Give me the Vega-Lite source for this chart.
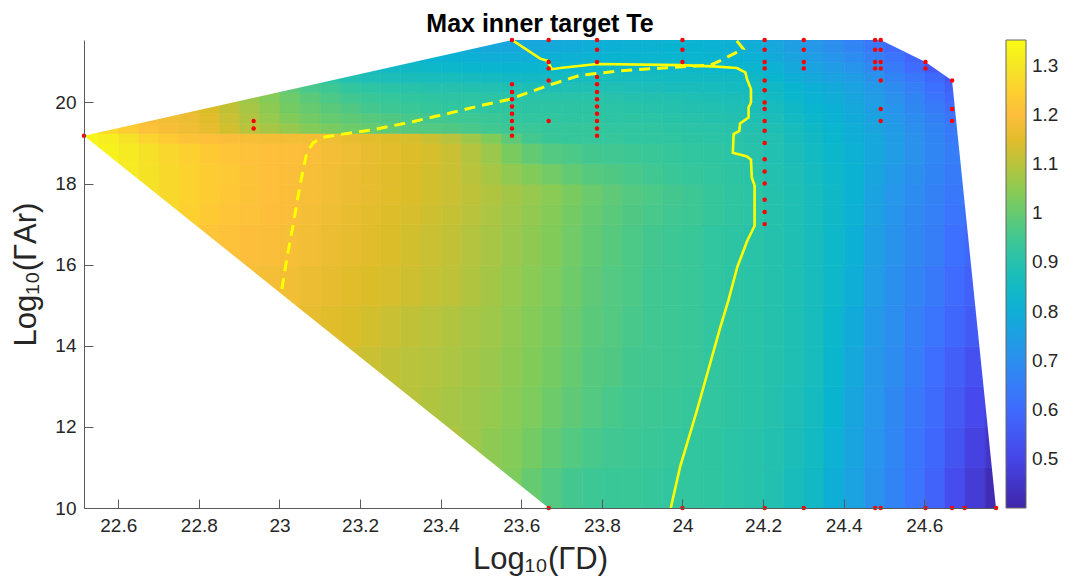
{
"$schema":"https://vega.github.io/schema/vega-lite/v6.json",
"width":912,"height":468,
"autosize":{"type":"none"},
"padding":{"left":84,"top":40,"right":71,"bottom":72},
"background":"white",
"title":{"text":"Max inner target Te","font":"Liberation Sans","fontSize":25,"fontWeight":"bold","color":"#000000","anchor":"middle","offset":1},
"datasets":{
"lo":[
{"x":23.525,"y":10.5,"v":1.04},{"x":23.575,"y":10.5,"v":1.03},{"x":23.625,"y":10.5,"v":1.0},{"x":23.675,"y":10.5,"v":0.975},{"x":23.725,"y":10.5,"v":0.955},{"x":23.775,"y":10.5,"v":0.945},{"x":23.825,"y":10.5,"v":0.94},{"x":23.875,"y":10.5,"v":0.94},{"x":23.925,"y":10.5,"v":0.935},{"x":23.975,"y":10.5,"v":0.93},{"x":24.025,"y":10.5,"v":0.93},{"x":24.075,"y":10.5,"v":0.925},{"x":24.125,"y":10.5,"v":0.915},{"x":24.175,"y":10.5,"v":0.905},{"x":24.225,"y":10.5,"v":0.895},{"x":24.275,"y":10.5,"v":0.87},{"x":24.325,"y":10.5,"v":0.85},{"x":24.375,"y":10.5,"v":0.8},{"x":24.425,"y":10.5,"v":0.76},{"x":24.475,"y":10.5,"v":0.71},{"x":24.525,"y":10.5,"v":0.67},{"x":24.575,"y":10.5,"v":0.625},{"x":24.625,"y":10.5,"v":0.58},{"x":24.675,"y":10.5,"v":0.52},{"x":24.725,"y":10.5,"v":0.47},{"x":24.775,"y":10.5,"v":0.42},
{"x":23.425,"y":11.5,"v":1.09},{"x":23.475,"y":11.5,"v":1.07},{"x":23.525,"y":11.5,"v":1.05},{"x":23.575,"y":11.5,"v":1.04},{"x":23.625,"y":11.5,"v":1.02},{"x":23.675,"y":11.5,"v":0.995},{"x":23.725,"y":11.5,"v":0.975},{"x":23.775,"y":11.5,"v":0.96},{"x":23.825,"y":11.5,"v":0.95},{"x":23.875,"y":11.5,"v":0.945},{"x":23.925,"y":11.5,"v":0.94},{"x":23.975,"y":11.5,"v":0.935},{"x":24.025,"y":11.5,"v":0.93},{"x":24.075,"y":11.5,"v":0.925},{"x":24.125,"y":11.5,"v":0.915},{"x":24.175,"y":11.5,"v":0.905},{"x":24.225,"y":11.5,"v":0.895},{"x":24.275,"y":11.5,"v":0.875},{"x":24.325,"y":11.5,"v":0.855},{"x":24.375,"y":11.5,"v":0.81},{"x":24.425,"y":11.5,"v":0.765},{"x":24.475,"y":11.5,"v":0.715},{"x":24.525,"y":11.5,"v":0.675},{"x":24.575,"y":11.5,"v":0.63},{"x":24.625,"y":11.5,"v":0.59},{"x":24.675,"y":11.5,"v":0.54},{"x":24.725,"y":11.5,"v":0.49},{"x":24.775,"y":11.5,"v":0.45},
{"x":23.275,"y":12.5,"v":1.11},{"x":23.325,"y":12.5,"v":1.1},{"x":23.375,"y":12.5,"v":1.09},{"x":23.425,"y":12.5,"v":1.08},{"x":23.475,"y":12.5,"v":1.07},{"x":23.525,"y":12.5,"v":1.06},{"x":23.575,"y":12.5,"v":1.045},{"x":23.625,"y":12.5,"v":1.03},{"x":23.675,"y":12.5,"v":1.01},{"x":23.725,"y":12.5,"v":0.99},{"x":23.775,"y":12.5,"v":0.975},{"x":23.825,"y":12.5,"v":0.96},{"x":23.875,"y":12.5,"v":0.95},{"x":23.925,"y":12.5,"v":0.945},{"x":23.975,"y":12.5,"v":0.94},{"x":24.025,"y":12.5,"v":0.935},{"x":24.075,"y":12.5,"v":0.93},{"x":24.125,"y":12.5,"v":0.92},{"x":24.175,"y":12.5,"v":0.91},{"x":24.225,"y":12.5,"v":0.9},{"x":24.275,"y":12.5,"v":0.88},{"x":24.325,"y":12.5,"v":0.86},{"x":24.375,"y":12.5,"v":0.82},{"x":24.425,"y":12.5,"v":0.77},{"x":24.475,"y":12.5,"v":0.72},{"x":24.525,"y":12.5,"v":0.68},{"x":24.575,"y":12.5,"v":0.64},{"x":24.625,"y":12.5,"v":0.6},{"x":24.675,"y":12.5,"v":0.555},{"x":24.725,"y":12.5,"v":0.51},{"x":24.775,"y":12.5,"v":0.47},
{"x":23.175,"y":13.5,"v":1.13},{"x":23.225,"y":13.5,"v":1.12},{"x":23.275,"y":13.5,"v":1.11},{"x":23.325,"y":13.5,"v":1.1},{"x":23.375,"y":13.5,"v":1.095},{"x":23.425,"y":13.5,"v":1.085},{"x":23.475,"y":13.5,"v":1.075},{"x":23.525,"y":13.5,"v":1.065},{"x":23.575,"y":13.5,"v":1.05},{"x":23.625,"y":13.5,"v":1.035},{"x":23.675,"y":13.5,"v":1.02},{"x":23.725,"y":13.5,"v":1.0},{"x":23.775,"y":13.5,"v":0.98},{"x":23.825,"y":13.5,"v":0.97},{"x":23.875,"y":13.5,"v":0.955},{"x":23.925,"y":13.5,"v":0.95},{"x":23.975,"y":13.5,"v":0.945},{"x":24.025,"y":13.5,"v":0.94},{"x":24.075,"y":13.5,"v":0.93},{"x":24.125,"y":13.5,"v":0.92},{"x":24.175,"y":13.5,"v":0.91},{"x":24.225,"y":13.5,"v":0.9},{"x":24.275,"y":13.5,"v":0.885},{"x":24.325,"y":13.5,"v":0.865},{"x":24.375,"y":13.5,"v":0.83},{"x":24.425,"y":13.5,"v":0.78},{"x":24.475,"y":13.5,"v":0.725},{"x":24.525,"y":13.5,"v":0.69},{"x":24.575,"y":13.5,"v":0.65},{"x":24.625,"y":13.5,"v":0.61},{"x":24.675,"y":13.5,"v":0.57},{"x":24.725,"y":13.5,"v":0.53},
{"x":23.025,"y":14.5,"v":1.17},{"x":23.075,"y":14.5,"v":1.16},{"x":23.125,"y":14.5,"v":1.15},{"x":23.175,"y":14.5,"v":1.14},{"x":23.225,"y":14.5,"v":1.13},{"x":23.275,"y":14.5,"v":1.12},{"x":23.325,"y":14.5,"v":1.11},{"x":23.375,"y":14.5,"v":1.1},{"x":23.425,"y":14.5,"v":1.09},{"x":23.475,"y":14.5,"v":1.08},{"x":23.525,"y":14.5,"v":1.07},{"x":23.575,"y":14.5,"v":1.055},{"x":23.625,"y":14.5,"v":1.04},{"x":23.675,"y":14.5,"v":1.025},{"x":23.725,"y":14.5,"v":1.005},{"x":23.775,"y":14.5,"v":0.985},{"x":23.825,"y":14.5,"v":0.975},{"x":23.875,"y":14.5,"v":0.96},{"x":23.925,"y":14.5,"v":0.95},{"x":23.975,"y":14.5,"v":0.945},{"x":24.025,"y":14.5,"v":0.94},{"x":24.075,"y":14.5,"v":0.93},{"x":24.125,"y":14.5,"v":0.92},{"x":24.175,"y":14.5,"v":0.91},{"x":24.225,"y":14.5,"v":0.9},{"x":24.275,"y":14.5,"v":0.885},{"x":24.325,"y":14.5,"v":0.865},{"x":24.375,"y":14.5,"v":0.835},{"x":24.425,"y":14.5,"v":0.79},{"x":24.475,"y":14.5,"v":0.73},{"x":24.525,"y":14.5,"v":0.695},{"x":24.575,"y":14.5,"v":0.66},{"x":24.625,"y":14.5,"v":0.625},{"x":24.675,"y":14.5,"v":0.59},{"x":24.725,"y":14.5,"v":0.56},
{"x":22.925,"y":15.5,"v":1.19},{"x":22.975,"y":15.5,"v":1.185},{"x":23.025,"y":15.5,"v":1.18},{"x":23.075,"y":15.5,"v":1.17},{"x":23.125,"y":15.5,"v":1.16},{"x":23.175,"y":15.5,"v":1.15},{"x":23.225,"y":15.5,"v":1.14},{"x":23.275,"y":15.5,"v":1.135},{"x":23.325,"y":15.5,"v":1.125},{"x":23.375,"y":15.5,"v":1.115},{"x":23.425,"y":15.5,"v":1.105},{"x":23.475,"y":15.5,"v":1.09},{"x":23.525,"y":15.5,"v":1.075},{"x":23.575,"y":15.5,"v":1.06},{"x":23.625,"y":15.5,"v":1.045},{"x":23.675,"y":15.5,"v":1.03},{"x":23.725,"y":15.5,"v":1.01},{"x":23.775,"y":15.5,"v":0.99},{"x":23.825,"y":15.5,"v":0.975},{"x":23.875,"y":15.5,"v":0.965},{"x":23.925,"y":15.5,"v":0.95},{"x":23.975,"y":15.5,"v":0.945},{"x":24.025,"y":15.5,"v":0.94},{"x":24.075,"y":15.5,"v":0.93},{"x":24.125,"y":15.5,"v":0.92},{"x":24.175,"y":15.5,"v":0.91},{"x":24.225,"y":15.5,"v":0.9},{"x":24.275,"y":15.5,"v":0.885},{"x":24.325,"y":15.5,"v":0.865},{"x":24.375,"y":15.5,"v":0.84},{"x":24.425,"y":15.5,"v":0.8},{"x":24.475,"y":15.5,"v":0.74},{"x":24.525,"y":15.5,"v":0.7},{"x":24.575,"y":15.5,"v":0.67},{"x":24.625,"y":15.5,"v":0.64},{"x":24.675,"y":15.5,"v":0.605},{"x":24.725,"y":15.5,"v":0.575},
{"x":22.775,"y":16.5,"v":1.24},{"x":22.825,"y":16.5,"v":1.22},{"x":22.875,"y":16.5,"v":1.21},{"x":22.925,"y":16.5,"v":1.2},{"x":22.975,"y":16.5,"v":1.195},{"x":23.025,"y":16.5,"v":1.19},{"x":23.075,"y":16.5,"v":1.18},{"x":23.125,"y":16.5,"v":1.17},{"x":23.175,"y":16.5,"v":1.16},{"x":23.225,"y":16.5,"v":1.15},{"x":23.275,"y":16.5,"v":1.14},{"x":23.325,"y":16.5,"v":1.13},{"x":23.375,"y":16.5,"v":1.12},{"x":23.425,"y":16.5,"v":1.11},{"x":23.475,"y":16.5,"v":1.095},{"x":23.525,"y":16.5,"v":1.08},{"x":23.575,"y":16.5,"v":1.065},{"x":23.625,"y":16.5,"v":1.05},{"x":23.675,"y":16.5,"v":1.035},{"x":23.725,"y":16.5,"v":1.015},{"x":23.775,"y":16.5,"v":0.995},{"x":23.825,"y":16.5,"v":0.98},{"x":23.875,"y":16.5,"v":0.965},{"x":23.925,"y":16.5,"v":0.955},{"x":23.975,"y":16.5,"v":0.945},{"x":24.025,"y":16.5,"v":0.94},{"x":24.075,"y":16.5,"v":0.93},{"x":24.125,"y":16.5,"v":0.92},{"x":24.175,"y":16.5,"v":0.91},{"x":24.225,"y":16.5,"v":0.9},{"x":24.275,"y":16.5,"v":0.885},{"x":24.325,"y":16.5,"v":0.865},{"x":24.375,"y":16.5,"v":0.84},{"x":24.425,"y":16.5,"v":0.805},{"x":24.475,"y":16.5,"v":0.75},{"x":24.525,"y":16.5,"v":0.71},{"x":24.575,"y":16.5,"v":0.68},{"x":24.625,"y":16.5,"v":0.65},{"x":24.675,"y":16.5,"v":0.615},{"x":24.725,"y":16.5,"v":0.59}
],
"mid":[
{"x":22.725,"y":17.25,"v":1.27},{"x":22.775,"y":17.25,"v":1.25},{"x":22.825,"y":17.25,"v":1.235},{"x":22.875,"y":17.25,"v":1.22},{"x":22.925,"y":17.25,"v":1.21},{"x":22.975,"y":17.25,"v":1.2},{"x":23.025,"y":17.25,"v":1.195},{"x":23.075,"y":17.25,"v":1.185},{"x":23.125,"y":17.25,"v":1.175},{"x":23.175,"y":17.25,"v":1.165},{"x":23.225,"y":17.25,"v":1.155},{"x":23.275,"y":17.25,"v":1.145},{"x":23.325,"y":17.25,"v":1.135},{"x":23.375,"y":17.25,"v":1.125},{"x":23.425,"y":17.25,"v":1.115},{"x":23.475,"y":17.25,"v":1.1},{"x":23.525,"y":17.25,"v":1.085},{"x":23.575,"y":17.25,"v":1.07},{"x":23.625,"y":17.25,"v":1.055},{"x":23.675,"y":17.25,"v":1.04},{"x":23.725,"y":17.25,"v":1.02},{"x":23.775,"y":17.25,"v":1.0},{"x":23.825,"y":17.25,"v":0.985},{"x":23.875,"y":17.25,"v":0.97},{"x":23.925,"y":17.25,"v":0.96},{"x":23.975,"y":17.25,"v":0.95},{"x":24.025,"y":17.25,"v":0.945},{"x":24.075,"y":17.25,"v":0.935},{"x":24.125,"y":17.25,"v":0.925},{"x":24.175,"y":17.25,"v":0.915},{"x":24.225,"y":17.25,"v":0.9},{"x":24.275,"y":17.25,"v":0.885},{"x":24.325,"y":17.25,"v":0.865},{"x":24.375,"y":17.25,"v":0.845},{"x":24.425,"y":17.25,"v":0.81},{"x":24.475,"y":17.25,"v":0.755},{"x":24.525,"y":17.25,"v":0.715},{"x":24.575,"y":17.25,"v":0.685},{"x":24.625,"y":17.25,"v":0.655},{"x":24.675,"y":17.25,"v":0.625},{"x":24.725,"y":17.25,"v":0.6},
{"x":22.675,"y":17.75,"v":1.29},{"x":22.725,"y":17.75,"v":1.27},{"x":22.775,"y":17.75,"v":1.255},{"x":22.825,"y":17.75,"v":1.24},{"x":22.875,"y":17.75,"v":1.225},{"x":22.925,"y":17.75,"v":1.215},{"x":22.975,"y":17.75,"v":1.205},{"x":23.025,"y":17.75,"v":1.195},{"x":23.075,"y":17.75,"v":1.19},{"x":23.125,"y":17.75,"v":1.18},{"x":23.175,"y":17.75,"v":1.17},{"x":23.225,"y":17.75,"v":1.16},{"x":23.275,"y":17.75,"v":1.15},{"x":23.325,"y":17.75,"v":1.14},{"x":23.375,"y":17.75,"v":1.13},{"x":23.425,"y":17.75,"v":1.12},{"x":23.475,"y":17.75,"v":1.105},{"x":23.525,"y":17.75,"v":1.09},{"x":23.575,"y":17.75,"v":1.075},{"x":23.625,"y":17.75,"v":1.06},{"x":23.675,"y":17.75,"v":1.045},{"x":23.725,"y":17.75,"v":1.025},{"x":23.775,"y":17.75,"v":1.005},{"x":23.825,"y":17.75,"v":0.99},{"x":23.875,"y":17.75,"v":0.975},{"x":23.925,"y":17.75,"v":0.965},{"x":23.975,"y":17.75,"v":0.955},{"x":24.025,"y":17.75,"v":0.945},{"x":24.075,"y":17.75,"v":0.935},{"x":24.125,"y":17.75,"v":0.925},{"x":24.175,"y":17.75,"v":0.915},{"x":24.225,"y":17.75,"v":0.9},{"x":24.275,"y":17.75,"v":0.885},{"x":24.325,"y":17.75,"v":0.865},{"x":24.375,"y":17.75,"v":0.845},{"x":24.425,"y":17.75,"v":0.815},{"x":24.475,"y":17.75,"v":0.76},{"x":24.525,"y":17.75,"v":0.72},{"x":24.575,"y":17.75,"v":0.69},{"x":24.625,"y":17.75,"v":0.66},{"x":24.675,"y":17.75,"v":0.635},{"x":24.725,"y":17.75,"v":0.61},
{"x":22.625,"y":18.25,"v":1.31},{"x":22.675,"y":18.25,"v":1.29},{"x":22.725,"y":18.25,"v":1.27},{"x":22.775,"y":18.25,"v":1.255},{"x":22.825,"y":18.25,"v":1.24},{"x":22.875,"y":18.25,"v":1.23},{"x":22.925,"y":18.25,"v":1.215},{"x":22.975,"y":18.25,"v":1.205},{"x":23.025,"y":18.25,"v":1.195},{"x":23.075,"y":18.25,"v":1.19},{"x":23.125,"y":18.25,"v":1.18},{"x":23.175,"y":18.25,"v":1.17},{"x":23.225,"y":18.25,"v":1.16},{"x":23.275,"y":18.25,"v":1.15},{"x":23.325,"y":18.25,"v":1.14},{"x":23.375,"y":18.25,"v":1.13},{"x":23.425,"y":18.25,"v":1.12},{"x":23.475,"y":18.25,"v":1.1},{"x":23.525,"y":18.25,"v":1.08},{"x":23.575,"y":18.25,"v":1.055},{"x":23.625,"y":18.25,"v":1.035},{"x":23.675,"y":18.25,"v":1.015},{"x":23.725,"y":18.25,"v":0.995},{"x":23.775,"y":18.25,"v":0.98},{"x":23.825,"y":18.25,"v":0.97},{"x":23.875,"y":18.25,"v":0.96},{"x":23.925,"y":18.25,"v":0.95},{"x":23.975,"y":18.25,"v":0.94},{"x":24.025,"y":18.25,"v":0.935},{"x":24.075,"y":18.25,"v":0.93},{"x":24.125,"y":18.25,"v":0.92},{"x":24.175,"y":18.25,"v":0.91},{"x":24.225,"y":18.25,"v":0.895},{"x":24.275,"y":18.25,"v":0.88},{"x":24.325,"y":18.25,"v":0.86},{"x":24.375,"y":18.25,"v":0.84},{"x":24.425,"y":18.25,"v":0.815},{"x":24.475,"y":18.25,"v":0.77},{"x":24.525,"y":18.25,"v":0.73},{"x":24.575,"y":18.25,"v":0.7},{"x":24.625,"y":18.25,"v":0.67},{"x":24.675,"y":18.25,"v":0.645},
{"x":22.525,"y":18.75,"v":1.34},{"x":22.575,"y":18.75,"v":1.33},{"x":22.625,"y":18.75,"v":1.31},{"x":22.675,"y":18.75,"v":1.285},{"x":22.725,"y":18.75,"v":1.265},{"x":22.775,"y":18.75,"v":1.25},{"x":22.825,"y":18.75,"v":1.235},{"x":22.875,"y":18.75,"v":1.22},{"x":22.925,"y":18.75,"v":1.21},{"x":22.975,"y":18.75,"v":1.205},{"x":23.025,"y":18.75,"v":1.2},{"x":23.075,"y":18.75,"v":1.195},{"x":23.125,"y":18.75,"v":1.185},{"x":23.175,"y":18.75,"v":1.175},{"x":23.225,"y":18.75,"v":1.165},{"x":23.275,"y":18.75,"v":1.155},{"x":23.325,"y":18.75,"v":1.145},{"x":23.375,"y":18.75,"v":1.135},{"x":23.425,"y":18.75,"v":1.12},{"x":23.475,"y":18.75,"v":1.095},{"x":23.525,"y":18.75,"v":1.065},{"x":23.575,"y":18.75,"v":1.025},{"x":23.625,"y":18.75,"v":0.995},{"x":23.675,"y":18.75,"v":0.975},{"x":23.725,"y":18.75,"v":0.965},{"x":23.775,"y":18.75,"v":0.955},{"x":23.825,"y":18.75,"v":0.95},{"x":23.875,"y":18.75,"v":0.945},{"x":23.925,"y":18.75,"v":0.94},{"x":23.975,"y":18.75,"v":0.935},{"x":24.025,"y":18.75,"v":0.93},{"x":24.075,"y":18.75,"v":0.925},{"x":24.125,"y":18.75,"v":0.915},{"x":24.175,"y":18.75,"v":0.905},{"x":24.225,"y":18.75,"v":0.89},{"x":24.275,"y":18.75,"v":0.875},{"x":24.325,"y":18.75,"v":0.855},{"x":24.375,"y":18.75,"v":0.835},{"x":24.425,"y":18.75,"v":0.81},{"x":24.475,"y":18.75,"v":0.775},{"x":24.525,"y":18.75,"v":0.74},{"x":24.575,"y":18.75,"v":0.705},{"x":24.625,"y":18.75,"v":0.675},{"x":24.675,"y":18.75,"v":0.65}
],
"up":[
{"x":22.525,"y":19.125,"v":1.34},{"x":22.575,"y":19.125,"v":1.32},{"x":22.625,"y":19.125,"v":1.29},{"x":22.675,"y":19.125,"v":1.26},{"x":22.725,"y":19.125,"v":1.235},{"x":22.775,"y":19.125,"v":1.215},{"x":22.825,"y":19.125,"v":1.205},{"x":22.875,"y":19.125,"v":1.195},{"x":22.925,"y":19.125,"v":1.19},{"x":22.975,"y":19.125,"v":1.185},{"x":23.025,"y":19.125,"v":1.18},{"x":23.075,"y":19.125,"v":1.18},{"x":23.125,"y":19.125,"v":1.175},{"x":23.175,"y":19.125,"v":1.165},{"x":23.225,"y":19.125,"v":1.155},{"x":23.275,"y":19.125,"v":1.145},{"x":23.325,"y":19.125,"v":1.135},{"x":23.375,"y":19.125,"v":1.12},{"x":23.425,"y":19.125,"v":1.1},{"x":23.475,"y":19.125,"v":1.07},{"x":23.525,"y":19.125,"v":1.035},{"x":23.575,"y":19.125,"v":0.99},{"x":23.625,"y":19.125,"v":0.955},{"x":23.675,"y":19.125,"v":0.94},{"x":23.725,"y":19.125,"v":0.935},{"x":23.775,"y":19.125,"v":0.935},{"x":23.825,"y":19.125,"v":0.935},{"x":23.875,"y":19.125,"v":0.93},{"x":23.925,"y":19.125,"v":0.93},{"x":23.975,"y":19.125,"v":0.925},{"x":24.025,"y":19.125,"v":0.92},{"x":24.075,"y":19.125,"v":0.915},{"x":24.125,"y":19.125,"v":0.91},{"x":24.175,"y":19.125,"v":0.9},{"x":24.225,"y":19.125,"v":0.89},{"x":24.275,"y":19.125,"v":0.87},{"x":24.325,"y":19.125,"v":0.85},{"x":24.375,"y":19.125,"v":0.83},{"x":24.425,"y":19.125,"v":0.8},{"x":24.475,"y":19.125,"v":0.775},{"x":24.525,"y":19.125,"v":0.74},{"x":24.575,"y":19.125,"v":0.705},{"x":24.625,"y":19.125,"v":0.675},{"x":24.675,"y":19.125,"v":0.645},
{"x":22.525,"y":19.375,"v":1.3},{"x":22.575,"y":19.375,"v":1.27},{"x":22.625,"y":19.375,"v":1.24},{"x":22.675,"y":19.375,"v":1.21},{"x":22.725,"y":19.375,"v":1.19},{"x":22.775,"y":19.375,"v":1.175},{"x":22.825,"y":19.375,"v":1.16},{"x":22.875,"y":19.375,"v":1.13},{"x":22.925,"y":19.375,"v":1.1},{"x":22.975,"y":19.375,"v":1.08},{"x":23.025,"y":19.375,"v":1.06},{"x":23.075,"y":19.375,"v":1.04},{"x":23.125,"y":19.375,"v":1.025},{"x":23.175,"y":19.375,"v":1.01},{"x":23.225,"y":19.375,"v":1.0},{"x":23.275,"y":19.375,"v":0.99},{"x":23.325,"y":19.375,"v":0.98},{"x":23.375,"y":19.375,"v":0.975},{"x":23.425,"y":19.375,"v":0.97},{"x":23.475,"y":19.375,"v":0.96},{"x":23.525,"y":19.375,"v":0.95},{"x":23.575,"y":19.375,"v":0.945},{"x":23.625,"y":19.375,"v":0.94},{"x":23.675,"y":19.375,"v":0.935},{"x":23.725,"y":19.375,"v":0.935},{"x":23.775,"y":19.375,"v":0.935},{"x":23.825,"y":19.375,"v":0.93},{"x":23.875,"y":19.375,"v":0.93},{"x":23.925,"y":19.375,"v":0.925},{"x":23.975,"y":19.375,"v":0.92},{"x":24.025,"y":19.375,"v":0.915},{"x":24.075,"y":19.375,"v":0.91},{"x":24.125,"y":19.375,"v":0.905},{"x":24.175,"y":19.375,"v":0.895},{"x":24.225,"y":19.375,"v":0.885},{"x":24.275,"y":19.375,"v":0.865},{"x":24.325,"y":19.375,"v":0.845},{"x":24.375,"y":19.375,"v":0.825},{"x":24.425,"y":19.375,"v":0.8},{"x":24.475,"y":19.375,"v":0.77},{"x":24.525,"y":19.375,"v":0.735},{"x":24.575,"y":19.375,"v":0.7},{"x":24.625,"y":19.375,"v":0.67},{"x":24.675,"y":19.375,"v":0.64},
{"x":22.675,"y":19.625,"v":1.19},{"x":22.725,"y":19.625,"v":1.18},{"x":22.775,"y":19.625,"v":1.17},{"x":22.825,"y":19.625,"v":1.15},{"x":22.875,"y":19.625,"v":1.12},{"x":22.925,"y":19.625,"v":1.09},{"x":22.975,"y":19.625,"v":1.06},{"x":23.025,"y":19.625,"v":1.035},{"x":23.075,"y":19.625,"v":1.015},{"x":23.125,"y":19.625,"v":1.0},{"x":23.175,"y":19.625,"v":0.99},{"x":23.225,"y":19.625,"v":0.98},{"x":23.275,"y":19.625,"v":0.97},{"x":23.325,"y":19.625,"v":0.96},{"x":23.375,"y":19.625,"v":0.955},{"x":23.425,"y":19.625,"v":0.95},{"x":23.475,"y":19.625,"v":0.945},{"x":23.525,"y":19.625,"v":0.94},{"x":23.575,"y":19.625,"v":0.935},{"x":23.625,"y":19.625,"v":0.93},{"x":23.675,"y":19.625,"v":0.93},{"x":23.725,"y":19.625,"v":0.925},{"x":23.775,"y":19.625,"v":0.925},{"x":23.825,"y":19.625,"v":0.92},{"x":23.875,"y":19.625,"v":0.92},{"x":23.925,"y":19.625,"v":0.915},{"x":23.975,"y":19.625,"v":0.91},{"x":24.025,"y":19.625,"v":0.905},{"x":24.075,"y":19.625,"v":0.9},{"x":24.125,"y":19.625,"v":0.895},{"x":24.175,"y":19.625,"v":0.885},{"x":24.225,"y":19.625,"v":0.875},{"x":24.275,"y":19.625,"v":0.855},{"x":24.325,"y":19.625,"v":0.835},{"x":24.375,"y":19.625,"v":0.815},{"x":24.425,"y":19.625,"v":0.79},{"x":24.475,"y":19.625,"v":0.76},{"x":24.525,"y":19.625,"v":0.725},{"x":24.575,"y":19.625,"v":0.69},{"x":24.625,"y":19.625,"v":0.66},{"x":24.675,"y":19.625,"v":0.625},
{"x":22.775,"y":19.875,"v":1.16},{"x":22.825,"y":19.875,"v":1.14},{"x":22.875,"y":19.875,"v":1.11},{"x":22.925,"y":19.875,"v":1.08},{"x":22.975,"y":19.875,"v":1.05},{"x":23.025,"y":19.875,"v":1.02},{"x":23.075,"y":19.875,"v":1.0},{"x":23.125,"y":19.875,"v":0.985},{"x":23.175,"y":19.875,"v":0.97},{"x":23.225,"y":19.875,"v":0.955},{"x":23.275,"y":19.875,"v":0.945},{"x":23.325,"y":19.875,"v":0.94},{"x":23.375,"y":19.875,"v":0.935},{"x":23.425,"y":19.875,"v":0.93},{"x":23.475,"y":19.875,"v":0.93},{"x":23.525,"y":19.875,"v":0.925},{"x":23.575,"y":19.875,"v":0.925},{"x":23.625,"y":19.875,"v":0.92},{"x":23.675,"y":19.875,"v":0.92},{"x":23.725,"y":19.875,"v":0.92},{"x":23.775,"y":19.875,"v":0.92},{"x":23.825,"y":19.875,"v":0.915},{"x":23.875,"y":19.875,"v":0.91},{"x":23.925,"y":19.875,"v":0.905},{"x":23.975,"y":19.875,"v":0.9},{"x":24.025,"y":19.875,"v":0.895},{"x":24.075,"y":19.875,"v":0.89},{"x":24.125,"y":19.875,"v":0.885},{"x":24.175,"y":19.875,"v":0.875},{"x":24.225,"y":19.875,"v":0.865},{"x":24.275,"y":19.875,"v":0.845},{"x":24.325,"y":19.875,"v":0.825},{"x":24.375,"y":19.875,"v":0.805},{"x":24.425,"y":19.875,"v":0.78},{"x":24.475,"y":19.875,"v":0.75},{"x":24.525,"y":19.875,"v":0.715},{"x":24.575,"y":19.875,"v":0.68},{"x":24.625,"y":19.875,"v":0.645},{"x":24.675,"y":19.875,"v":0.61},
{"x":22.875,"y":20.125,"v":1.1},{"x":22.925,"y":20.125,"v":1.07},{"x":22.975,"y":20.125,"v":1.04},{"x":23.025,"y":20.125,"v":1.01},{"x":23.075,"y":20.125,"v":0.985},{"x":23.125,"y":20.125,"v":0.965},{"x":23.175,"y":20.125,"v":0.95},{"x":23.225,"y":20.125,"v":0.94},{"x":23.275,"y":20.125,"v":0.935},{"x":23.325,"y":20.125,"v":0.93},{"x":23.375,"y":20.125,"v":0.925},{"x":23.425,"y":20.125,"v":0.92},{"x":23.475,"y":20.125,"v":0.92},{"x":23.525,"y":20.125,"v":0.915},{"x":23.575,"y":20.125,"v":0.91},{"x":23.625,"y":20.125,"v":0.91},{"x":23.675,"y":20.125,"v":0.91},{"x":23.725,"y":20.125,"v":0.91},{"x":23.775,"y":20.125,"v":0.91},{"x":23.825,"y":20.125,"v":0.905},{"x":23.875,"y":20.125,"v":0.9},{"x":23.925,"y":20.125,"v":0.895},{"x":23.975,"y":20.125,"v":0.89},{"x":24.025,"y":20.125,"v":0.885},{"x":24.075,"y":20.125,"v":0.88},{"x":24.125,"y":20.125,"v":0.875},{"x":24.175,"y":20.125,"v":0.865},{"x":24.225,"y":20.125,"v":0.855},{"x":24.275,"y":20.125,"v":0.835},{"x":24.325,"y":20.125,"v":0.815},{"x":24.375,"y":20.125,"v":0.795},{"x":24.425,"y":20.125,"v":0.77},{"x":24.475,"y":20.125,"v":0.74},{"x":24.525,"y":20.125,"v":0.705},{"x":24.575,"y":20.125,"v":0.67},{"x":24.625,"y":20.125,"v":0.63},{"x":24.675,"y":20.125,"v":0.595},
{"x":22.975,"y":20.375,"v":1.02},{"x":23.025,"y":20.375,"v":0.99},{"x":23.075,"y":20.375,"v":0.96},{"x":23.125,"y":20.375,"v":0.945},{"x":23.175,"y":20.375,"v":0.93},{"x":23.225,"y":20.375,"v":0.92},{"x":23.275,"y":20.375,"v":0.91},{"x":23.325,"y":20.375,"v":0.905},{"x":23.375,"y":20.375,"v":0.9},{"x":23.425,"y":20.375,"v":0.9},{"x":23.475,"y":20.375,"v":0.895},{"x":23.525,"y":20.375,"v":0.89},{"x":23.575,"y":20.375,"v":0.885},{"x":23.625,"y":20.375,"v":0.88},{"x":23.675,"y":20.375,"v":0.88},{"x":23.725,"y":20.375,"v":0.885},{"x":23.775,"y":20.375,"v":0.885},{"x":23.825,"y":20.375,"v":0.885},{"x":23.875,"y":20.375,"v":0.88},{"x":23.925,"y":20.375,"v":0.875},{"x":23.975,"y":20.375,"v":0.87},{"x":24.025,"y":20.375,"v":0.87},{"x":24.075,"y":20.375,"v":0.865},{"x":24.125,"y":20.375,"v":0.86},{"x":24.175,"y":20.375,"v":0.855},{"x":24.225,"y":20.375,"v":0.845},{"x":24.275,"y":20.375,"v":0.825},{"x":24.325,"y":20.375,"v":0.805},{"x":24.375,"y":20.375,"v":0.785},{"x":24.425,"y":20.375,"v":0.76},{"x":24.475,"y":20.375,"v":0.73},{"x":24.525,"y":20.375,"v":0.69},{"x":24.575,"y":20.375,"v":0.655},{"x":24.625,"y":20.375,"v":0.615},{"x":24.675,"y":20.375,"v":0.575},
{"x":23.075,"y":20.625,"v":0.93},{"x":23.125,"y":20.625,"v":0.91},{"x":23.175,"y":20.625,"v":0.89},{"x":23.225,"y":20.625,"v":0.88},{"x":23.275,"y":20.625,"v":0.875},{"x":23.325,"y":20.625,"v":0.87},{"x":23.375,"y":20.625,"v":0.865},{"x":23.425,"y":20.625,"v":0.865},{"x":23.475,"y":20.625,"v":0.86},{"x":23.525,"y":20.625,"v":0.855},{"x":23.575,"y":20.625,"v":0.85},{"x":23.625,"y":20.625,"v":0.85},{"x":23.675,"y":20.625,"v":0.855},{"x":23.725,"y":20.625,"v":0.86},{"x":23.775,"y":20.625,"v":0.865},{"x":23.825,"y":20.625,"v":0.865},{"x":23.875,"y":20.625,"v":0.86},{"x":23.925,"y":20.625,"v":0.86},{"x":23.975,"y":20.625,"v":0.855},{"x":24.025,"y":20.625,"v":0.855},{"x":24.075,"y":20.625,"v":0.85},{"x":24.125,"y":20.625,"v":0.85},{"x":24.175,"y":20.625,"v":0.845},{"x":24.225,"y":20.625,"v":0.83},{"x":24.275,"y":20.625,"v":0.8},{"x":24.325,"y":20.625,"v":0.78},{"x":24.375,"y":20.625,"v":0.76},{"x":24.425,"y":20.625,"v":0.74},{"x":24.475,"y":20.625,"v":0.71},{"x":24.525,"y":20.625,"v":0.67},{"x":24.575,"y":20.625,"v":0.635},{"x":24.625,"y":20.625,"v":0.595},{"x":24.675,"y":20.625,"v":0.55},
{"x":23.225,"y":20.875,"v":0.86},{"x":23.275,"y":20.875,"v":0.85},{"x":23.325,"y":20.875,"v":0.845},{"x":23.375,"y":20.875,"v":0.84},{"x":23.425,"y":20.875,"v":0.835},{"x":23.475,"y":20.875,"v":0.83},{"x":23.525,"y":20.875,"v":0.825},{"x":23.575,"y":20.875,"v":0.82},{"x":23.625,"y":20.875,"v":0.825},{"x":23.675,"y":20.875,"v":0.83},{"x":23.725,"y":20.875,"v":0.835},{"x":23.775,"y":20.875,"v":0.84},{"x":23.825,"y":20.875,"v":0.84},{"x":23.875,"y":20.875,"v":0.84},{"x":23.925,"y":20.875,"v":0.84},{"x":23.975,"y":20.875,"v":0.84},{"x":24.025,"y":20.875,"v":0.84},{"x":24.075,"y":20.875,"v":0.835},{"x":24.125,"y":20.875,"v":0.83},{"x":24.175,"y":20.875,"v":0.825},{"x":24.225,"y":20.875,"v":0.81},{"x":24.275,"y":20.875,"v":0.78},{"x":24.325,"y":20.875,"v":0.76},{"x":24.375,"y":20.875,"v":0.735},{"x":24.425,"y":20.875,"v":0.715},{"x":24.475,"y":20.875,"v":0.685},{"x":24.525,"y":20.875,"v":0.645},{"x":24.575,"y":20.875,"v":0.605},{"x":24.625,"y":20.875,"v":0.56},
{"x":23.325,"y":21.125,"v":0.83},{"x":23.375,"y":21.125,"v":0.82},{"x":23.425,"y":21.125,"v":0.815},{"x":23.475,"y":21.125,"v":0.805},{"x":23.525,"y":21.125,"v":0.8},{"x":23.575,"y":21.125,"v":0.795},{"x":23.625,"y":21.125,"v":0.8},{"x":23.675,"y":21.125,"v":0.805},{"x":23.725,"y":21.125,"v":0.81},{"x":23.775,"y":21.125,"v":0.815},{"x":23.825,"y":21.125,"v":0.82},{"x":23.875,"y":21.125,"v":0.82},{"x":23.925,"y":21.125,"v":0.825},{"x":23.975,"y":21.125,"v":0.825},{"x":24.025,"y":21.125,"v":0.825},{"x":24.075,"y":21.125,"v":0.82},{"x":24.125,"y":21.125,"v":0.815},{"x":24.175,"y":21.125,"v":0.805},{"x":24.225,"y":21.125,"v":0.79},{"x":24.275,"y":21.125,"v":0.765},{"x":24.325,"y":21.125,"v":0.74},{"x":24.375,"y":21.125,"v":0.715},{"x":24.425,"y":21.125,"v":0.69},{"x":24.475,"y":21.125,"v":0.66},{"x":24.525,"y":21.125,"v":0.625},{"x":24.575,"y":21.125,"v":0.585},{"x":24.625,"y":21.125,"v":0.55},
{"x":23.425,"y":21.375,"v":0.8},{"x":23.475,"y":21.375,"v":0.79},{"x":23.525,"y":21.375,"v":0.78},{"x":23.575,"y":21.375,"v":0.775},{"x":23.625,"y":21.375,"v":0.775},{"x":23.675,"y":21.375,"v":0.785},{"x":23.725,"y":21.375,"v":0.79},{"x":23.775,"y":21.375,"v":0.8},{"x":23.825,"y":21.375,"v":0.805},{"x":23.875,"y":21.375,"v":0.81},{"x":23.925,"y":21.375,"v":0.815},{"x":23.975,"y":21.375,"v":0.82},{"x":24.025,"y":21.375,"v":0.82},{"x":24.075,"y":21.375,"v":0.815},{"x":24.125,"y":21.375,"v":0.805},{"x":24.175,"y":21.375,"v":0.795},{"x":24.225,"y":21.375,"v":0.775},{"x":24.275,"y":21.375,"v":0.75},{"x":24.325,"y":21.375,"v":0.725},{"x":24.375,"y":21.375,"v":0.7},{"x":24.425,"y":21.375,"v":0.67},{"x":24.475,"y":21.375,"v":0.64},{"x":24.525,"y":21.375,"v":0.6},{"x":24.575,"y":21.375,"v":0.56},
{"x":23.525,"y":21.625,"v":0.77},{"x":23.575,"y":21.625,"v":0.765},{"x":23.625,"y":21.625,"v":0.77},{"x":23.675,"y":21.625,"v":0.78},{"x":23.725,"y":21.625,"v":0.785},{"x":23.775,"y":21.625,"v":0.795},{"x":23.825,"y":21.625,"v":0.8},{"x":23.875,"y":21.625,"v":0.805},{"x":23.925,"y":21.625,"v":0.81},{"x":23.975,"y":21.625,"v":0.815},{"x":24.025,"y":21.625,"v":0.815},{"x":24.075,"y":21.625,"v":0.81},{"x":24.125,"y":21.625,"v":0.8},{"x":24.175,"y":21.625,"v":0.79},{"x":24.225,"y":21.625,"v":0.77},{"x":24.275,"y":21.625,"v":0.745},{"x":24.325,"y":21.625,"v":0.72},{"x":24.375,"y":21.625,"v":0.69},{"x":24.425,"y":21.625,"v":0.66},{"x":24.475,"y":21.625,"v":0.63},{"x":24.525,"y":21.625,"v":0.59}
],
"maskA":[{"x":22.515,"y":19.18},{"x":23.668,"y":10}],
"maskB":[{"x":22.515,"y":19.18},{"x":23.577,"y":21.54}],
"maskC":[{"x":24.778,"y":10},{"x":24.669,"y":20.54},{"x":24.603,"y":21.0},{"x":24.492,"y":21.54}],
"solid":[
{"o":1,"x":23.577,"y":21.54},{"o":2,"x":23.647,"y":21.08},{"o":3,"x":23.664,"y":21.03},{"o":4,"x":23.676,"y":20.82},{"o":5,"x":23.697,"y":20.85},{"o":6,"x":23.788,"y":20.95},{"o":7,"x":23.994,"y":20.92},{"o":8,"x":24.076,"y":20.89},{"o":9,"x":24.135,"y":20.85},{"o":10,"x":24.156,"y":20.74},{"o":11,"x":24.16,"y":20.58},{"o":12,"x":24.17,"y":20.33},{"o":13,"x":24.17,"y":20.0},{"o":14,"x":24.164,"y":19.88},{"o":15,"x":24.164,"y":19.63},{"o":16,"x":24.143,"y":19.48},{"o":17,"x":24.141,"y":19.3},{"o":18,"x":24.127,"y":19.22},{"o":19,"x":24.125,"y":18.76},{"o":20,"x":24.16,"y":18.67},{"o":21,"x":24.17,"y":18.59},{"o":22,"x":24.172,"y":18.15},{"o":23,"x":24.179,"y":17.95},{"o":24,"x":24.179,"y":16.96},{"o":25,"x":24.16,"y":16.57},{"o":26,"x":24.136,"y":15.94},{"o":27,"x":24.114,"y":15.12},{"o":28,"x":24.094,"y":14.46},{"o":29,"x":24.036,"y":12.41},{"o":30,"x":23.994,"y":11.01},{"o":31,"x":23.971,"y":10.0}
],
"dashed":[
{"o":1,"x":23.006,"y":15.4},{"o":2,"x":23.012,"y":15.77},{"o":3,"x":23.022,"y":16.35},{"o":4,"x":23.035,"y":17.04},{"o":5,"x":23.051,"y":17.95},{"o":6,"x":23.058,"y":18.3},{"o":7,"x":23.068,"y":18.77},{"o":8,"x":23.084,"y":19.01},{"o":9,"x":23.109,"y":19.14},{"o":10,"x":23.151,"y":19.21},{"o":11,"x":23.233,"y":19.33},{"o":12,"x":23.333,"y":19.53},{"o":13,"x":23.415,"y":19.72},{"o":14,"x":23.498,"y":19.92},{"o":15,"x":23.572,"y":20.08},{"o":16,"x":23.664,"y":20.41},{"o":17,"x":23.746,"y":20.67},{"o":18,"x":23.845,"y":20.78},{"o":19,"x":23.953,"y":20.85},{"o":20,"x":24.069,"y":20.92},{"o":21,"x":24.094,"y":21.03},{"o":22,"x":24.151,"y":21.32},{"o":23,"x":24.135,"y":21.52}
],
"dots":[
{"x":22.515,"y":19.18},{"x":22.936,"y":19.54},{"x":22.936,"y":19.36},
{"x":23.577,"y":21.54},{"x":23.577,"y":20.45},{"x":23.577,"y":20.26},{"x":23.577,"y":20.08},{"x":23.577,"y":19.9},{"x":23.577,"y":19.72},{"x":23.577,"y":19.54},{"x":23.577,"y":19.36},{"x":23.577,"y":19.18},
{"x":23.668,"y":21.54},{"x":23.668,"y":21.0},{"x":23.668,"y":20.84},{"x":23.668,"y":20.54},{"x":23.668,"y":19.54},{"x":23.668,"y":10},
{"x":23.788,"y":21.54},{"x":23.788,"y":21.3},{"x":23.788,"y":21.0},{"x":23.788,"y":20.63},{"x":23.788,"y":20.45},{"x":23.788,"y":20.26},{"x":23.788,"y":20.08},{"x":23.788,"y":19.9},{"x":23.788,"y":19.72},{"x":23.788,"y":19.54},{"x":23.788,"y":19.36},{"x":23.788,"y":19.18},
{"x":24.0,"y":21.54},{"x":24.0,"y":21.3},{"x":24.0,"y":21.0},{"x":24.0,"y":10},
{"x":24.204,"y":21.54},{"x":24.204,"y":21.3},{"x":24.204,"y":21.0},{"x":24.204,"y":20.84},{"x":24.204,"y":20.54},{"x":24.204,"y":20.3},{"x":24.204,"y":20.0},{"x":24.204,"y":19.84},{"x":24.204,"y":19.54},{"x":24.204,"y":19.3},{"x":24.204,"y":19.0},{"x":24.204,"y":18.6},{"x":24.204,"y":18.3},{"x":24.204,"y":18.0},{"x":24.204,"y":17.6},{"x":24.204,"y":17.3},{"x":24.204,"y":17.0},{"x":24.204,"y":10},
{"x":24.301,"y":21.54},{"x":24.301,"y":21.3},{"x":24.301,"y":21.0},{"x":24.301,"y":20.84},{"x":24.301,"y":10},
{"x":24.478,"y":21.54},{"x":24.478,"y":21.3},{"x":24.478,"y":21.0},{"x":24.478,"y":20.84},{"x":24.478,"y":10},
{"x":24.492,"y":21.54},{"x":24.492,"y":21.3},{"x":24.492,"y":21.0},{"x":24.492,"y":20.84},{"x":24.492,"y":20.54},{"x":24.492,"y":19.84},{"x":24.492,"y":19.54},{"x":24.492,"y":10},
{"x":24.603,"y":21.0},{"x":24.603,"y":20.84},{"x":24.603,"y":10},
{"x":24.669,"y":20.54},{"x":24.669,"y":19.84},{"x":24.669,"y":19.54},{"x":24.669,"y":10},
{"x":24.7,"y":10},{"x":24.778,"y":10}
]
},
"layer":[
{"data":{"name":"lo"},
 "mark":{"type":"rect","clip":true,"strokeWidth":0.7,"stroke":{"expr":"scale('fill', datum.mean_v)"}},
 "encoding":{
  "x":{"field":"x","type":"quantitative","bin":{"extent":[22.5,24.8],"step":0.05,"nice":false},"scale":{"domain":[22.515,24.778],"nice":false,"zero":false},"title":"Log₁₀(ΓD)",
       "axis":{"values":[22.6,22.8,23,23.2,23.4,23.6,23.8,24,24.2,24.4,24.6],"format":"~g","labelFlush":false,"labelOverlap":false,"titleY":60,"titleBaseline":"alphabetic","zindex":2,"tickSize":-9,"labelPadding":17}},
  "y":{"field":"y","type":"quantitative","bin":{"extent":[10,17],"step":1,"nice":false},"scale":{"domain":[10,21.54],"nice":false,"zero":false},"title":"Log₁₀(ΓAr)",
       "axis":{"values":[10,12,14,16,18,20],"format":"~g","labelFlush":false,"labelOverlap":false,"titleX":-49,"titleBaseline":"alphabetic","zindex":2,"tickSize":-9,"labelPadding":17}},
  "fill":{"aggregate":"mean","field":"v","type":"quantitative","scale":{"domain":[0.4,0.5059,0.6118,0.7177,0.8236,0.9294,1.0353,1.1412,1.2017,1.2471,1.2925,1.353],"range":["#3e26a8","#4747eb","#3e6fff","#2796eb","#08b5d0","#31c69f","#81cc59","#dcbd29","#febe3c","#fccf30","#f5e327","#f9fb15"],"interpolate":"rgb"},
       "legend":{"type":"gradient","orient":"none","legendX":922,"legendY":0,"direction":"vertical","gradientLength":468,"gradientThickness":20,"title":null,"values":[0.5,0.6,0.7,0.8,0.9,1,1.1,1.2,1.3],"format":"~g","labelFontSize":19,"labelFont":"Liberation Sans","labelColor":"#262626","labelOffset":6,"labelOverlap":false,"gradientStrokeColor":"#666666","gradientStrokeWidth":1,"padding":0}}
 }},
{"data":{"name":"mid"},
 "mark":{"type":"rect","clip":true,"strokeWidth":0.7,"stroke":{"expr":"scale('fill', datum.mean_v)"}},
 "encoding":{
  "x":{"field":"x","type":"quantitative","bin":{"extent":[22.5,24.8],"step":0.05,"nice":false},"scale":{"domain":[22.515,24.778],"nice":false,"zero":false},"title":"Log₁₀(ΓD)"},
  "y":{"field":"y","type":"quantitative","bin":{"extent":[17,19],"step":0.5,"nice":false},"scale":{"domain":[10,21.54],"nice":false,"zero":false},"title":"Log₁₀(ΓAr)"},
  "fill":{"aggregate":"mean","field":"v","type":"quantitative","scale":{"domain":[0.4,0.5059,0.6118,0.7177,0.8236,0.9294,1.0353,1.1412,1.2017,1.2471,1.2925,1.353],"range":["#3e26a8","#4747eb","#3e6fff","#2796eb","#08b5d0","#31c69f","#81cc59","#dcbd29","#febe3c","#fccf30","#f5e327","#f9fb15"],"interpolate":"rgb"}}
 }},
{"data":{"name":"up"},
 "mark":{"type":"rect","clip":true,"strokeWidth":0.7,"stroke":{"expr":"scale('fill', datum.mean_v)"}},
 "encoding":{
  "x":{"field":"x","type":"quantitative","bin":{"extent":[22.5,24.8],"step":0.05,"nice":false},"scale":{"domain":[22.515,24.778],"nice":false,"zero":false},"title":"Log₁₀(ΓD)"},
  "y":{"field":"y","type":"quantitative","bin":{"extent":[19,21.75],"step":0.25,"nice":false},"scale":{"domain":[10,21.54],"nice":false,"zero":false},"title":"Log₁₀(ΓAr)"},
  "fill":{"aggregate":"mean","field":"v","type":"quantitative","scale":{"domain":[0.4,0.5059,0.6118,0.7177,0.8236,0.9294,1.0353,1.1412,1.2017,1.2471,1.2925,1.353],"range":["#3e26a8","#4747eb","#3e6fff","#2796eb","#08b5d0","#31c69f","#81cc59","#dcbd29","#febe3c","#fccf30","#f5e327","#f9fb15"],"interpolate":"rgb"}}
 }},
{"data":{"name":"maskA"},
 "mark":{"type":"area","color":"#ffffff","clip":true},
 "encoding":{
  "x":{"field":"x","type":"quantitative","scale":{"domain":[22.515,24.778],"nice":false,"zero":false},"title":"Log₁₀(ΓD)"},
  "y":{"field":"y","type":"quantitative","scale":{"domain":[10,21.54],"nice":false,"zero":false},"title":"Log₁₀(ΓAr)"},
  "y2":{"datum":10}
 }},
{"data":{"name":"maskB"},
 "mark":{"type":"area","color":"#ffffff","clip":true},
 "encoding":{
  "x":{"field":"x","type":"quantitative","scale":{"domain":[22.515,24.778],"nice":false,"zero":false},"title":"Log₁₀(ΓD)"},
  "y":{"field":"y","type":"quantitative","scale":{"domain":[10,21.54],"nice":false,"zero":false},"title":"Log₁₀(ΓAr)"},
  "y2":{"datum":21.8}
 }},
{"data":{"name":"maskC"},
 "mark":{"type":"area","orient":"horizontal","color":"#ffffff","clip":true},
 "encoding":{
  "y":{"field":"y","type":"quantitative","scale":{"domain":[10,21.54],"nice":false,"zero":false},"title":"Log₁₀(ΓAr)"},
  "x":{"field":"x","type":"quantitative","scale":{"domain":[22.515,24.778],"nice":false,"zero":false},"title":"Log₁₀(ΓD)"},
  "x2":{"datum":24.9}
 }},
{"data":{"name":"solid"},
 "mark":{"type":"line","color":"#ffff00","strokeWidth":2.6,"clip":true},
 "encoding":{
  "x":{"field":"x","type":"quantitative","scale":{"domain":[22.515,24.778],"nice":false,"zero":false},"title":"Log₁₀(ΓD)"},
  "y":{"field":"y","type":"quantitative","scale":{"domain":[10,21.54],"nice":false,"zero":false},"title":"Log₁₀(ΓAr)"},
  "order":{"field":"o","type":"quantitative"}
 }},
{"data":{"name":"dashed"},
 "mark":{"type":"line","color":"#ffff00","strokeWidth":3,"strokeDash":[11,7],"clip":true},
 "encoding":{
  "x":{"field":"x","type":"quantitative","scale":{"domain":[22.515,24.778],"nice":false,"zero":false},"title":"Log₁₀(ΓD)"},
  "y":{"field":"y","type":"quantitative","scale":{"domain":[10,21.54],"nice":false,"zero":false},"title":"Log₁₀(ΓAr)"},
  "order":{"field":"o","type":"quantitative"}
 }},
{"data":{"name":"dots"},
 "mark":{"type":"circle","color":"#ff0000","size":20,"opacity":1},
 "encoding":{
  "x":{"field":"x","type":"quantitative","scale":{"domain":[22.515,24.778],"nice":false,"zero":false},"title":"Log₁₀(ΓD)"},
  "y":{"field":"y","type":"quantitative","scale":{"domain":[10,21.54],"nice":false,"zero":false},"title":"Log₁₀(ΓAr)"}
 }}
],
"config":{
 "view":{"stroke":null},
 "font":"Liberation Sans",
 "axis":{"grid":false,"domainColor":"#5a5a5a","tickColor":"#5a5a5a","labelColor":"#262626","titleColor":"#262626","labelFont":"Liberation Sans","titleFont":"Liberation Sans","labelFontSize":19,"titleFontSize":31,"titleFontWeight":"normal","tickSize":-9,"labelPadding":17}
}
}
